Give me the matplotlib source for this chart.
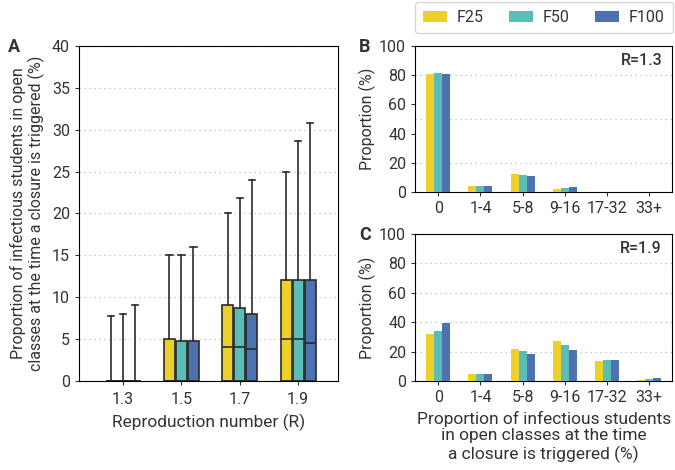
import matplotlib
matplotlib.use("Agg")
import matplotlib.pyplot as plt
import numpy as np

plt.rcParams['font.family'] = ['Roboto', 'DejaVu Sans']
plt.rcParams['text.color'] = '#333333'
plt.rcParams['axes.labelcolor'] = '#333333'
plt.rcParams['xtick.color'] = '#333333'
plt.rcParams['ytick.color'] = '#333333'

# ---- data ----
scenarios = ['F25', 'F50', 'F100']
colors = ['#EDD12B', '#5CBCB7', '#4C72B0']

r_values = ['1.3', '1.5', '1.7', '1.9']
# box stats per R (rows) and scenario (cols)
q1 = [[0, 0, 0], [0, 0, 0], [0, 0, 0], [0, 0, 0]]
q3 = [[0, 0, 0], [5.0, 4.8, 4.8], [9.1, 8.7, 8.0], [12.0, 12.0, 12.0]]
medians = [[0, 0, 0], [0, 0, 0], [4.0, 4.0, 3.8], [5.0, 5.0, 4.5]]
whisk_hi = [[7.7, 8.0, 9.1], [15.0, 15.0, 16.0], [20.0, 21.9, 24.0], [25.0, 28.6, 30.8]]

bins = ['0', '1-4', '5-8', '9-16', '17-32', '33+']
prop_r13 = {
    'F25': [81.0, 4.2, 12.0, 1.8, 0.0, 0.0],
    'F50': [81.5, 4.0, 11.5, 2.5, 0.0, 0.0],
    'F100': [80.8, 4.0, 11.0, 3.5, 0.0, 0.0],
}
prop_r19 = {
    'F25': [31.8, 5.0, 21.8, 27.3, 13.3, 0.5],
    'F50': [33.8, 4.8, 20.2, 24.8, 14.6, 1.3],
    'F100': [39.3, 4.6, 18.6, 20.8, 14.3, 2.2],
}

fig = plt.figure(figsize=(6.75, 4.7), dpi=100)
axA = fig.add_axes([0.117, 0.1894, 0.384, 0.7128])
axB = fig.add_axes([0.615, 0.5915, 0.381, 0.3106])
axC = fig.add_axes([0.615, 0.1894, 0.381, 0.3126])

edge = '#2b2b2b'
grid_style = dict(linestyle=(0, (1, 3)), color='#bbbbbb', linewidth=0.9)

# ---- panel A: boxplots ----
offsets = [-0.205, 0.0, 0.205]
for j, (sc, col) in enumerate(zip(scenarios, colors)):
    stats = []
    for i in range(len(r_values)):
        stats.append({'med': medians[i][j], 'q1': q1[i][j], 'q3': q3[i][j],
                      'whislo': 0, 'whishi': whisk_hi[i][j], 'fliers': []})
    pos = [i + offsets[j] for i in range(len(r_values))]
    axA.bxp(stats, positions=pos, widths=0.19, capwidths=0.11, patch_artist=True,
            showfliers=False,
            boxprops=dict(facecolor=col, edgecolor=edge, linewidth=1.2),
            medianprops=dict(color=edge, linewidth=1.2),
            whiskerprops=dict(color=edge, linewidth=1.2),
            capprops=dict(color=edge, linewidth=1.2), zorder=3)

axA.set_xlim(-0.755, 3.686)
axA.set_ylim(0, 40)
axA.set_xticks(range(len(r_values)))
axA.set_xticklabels(r_values)
axA.set_yticks(np.arange(0, 41, 5))
axA.yaxis.grid(True, **grid_style)
axA.set_axisbelow(True)
axA.set_xlabel('Reproduction number (R)', fontsize=12.5, labelpad=5)
axA.set_ylabel('Proportion of infectious students in open\nclasses at the time a closure is triggered (%)',
               fontsize=11.5, linespacing=1.15, labelpad=5)
axA.tick_params(labelsize=11.5, length=3)
axA.tick_params(axis='x', pad=5)
fig.text(0.011, 0.9, 'A', fontsize=13, fontweight='bold', va='center')

# ---- panels B and C ----
width = 0.19
x = np.arange(len(bins))


def bar_panel(ax, data, label, grid_vals):
    for k, (sc, col) in enumerate(zip(scenarios, colors)):
        ax.bar(x + (k - 1) * width, data[sc], width=width, color=col, label=sc, zorder=3)
    for g in grid_vals:
        ax.axhline(g, zorder=1, **grid_style)
    ax.set_xlim(-0.55, 5.55)
    ax.set_ylim(0, 100)
    ax.set_yticks(range(0, 101, 20))
    ax.set_xticks(x)
    ax.set_xticklabels(bins)
    ax.set_ylabel('Proportion (%)', fontsize=11.5, labelpad=2)
    ax.tick_params(labelsize=11.5, length=3)
    ax.text(0.96, 0.9, label, transform=ax.transAxes, ha='right', va='center',
            fontsize=11.5, fontweight='medium')


bar_panel(axB, prop_r13, 'R=1.3', [20, 50, 80])
bar_panel(axC, prop_r19, 'R=1.9', [20, 40, 60, 80])
axC.set_xlabel('Proportion of infectious students\nin open classes at the time\na closure is triggered (%)',
               fontsize=12.5, linespacing=1.15, labelpad=4)
fig.text(0.532, 0.9, 'B', fontsize=13, fontweight='bold', va='center')
fig.text(0.532, 0.5, 'C', fontsize=13, fontweight='bold', va='center')

handles, labels = axB.get_legend_handles_labels()
fig.legend(handles, labels, loc='upper right', bbox_to_anchor=(0.999, 0.999), ncol=3,
           fontsize=11.5, frameon=True, edgecolor='#cccccc', fancybox=True,
           handlelength=1.5, handleheight=0.75, handletextpad=0.6,
           columnspacing=1.6, borderpad=0.5, borderaxespad=0.1)

fig.savefig('out.png', dpi=100)
